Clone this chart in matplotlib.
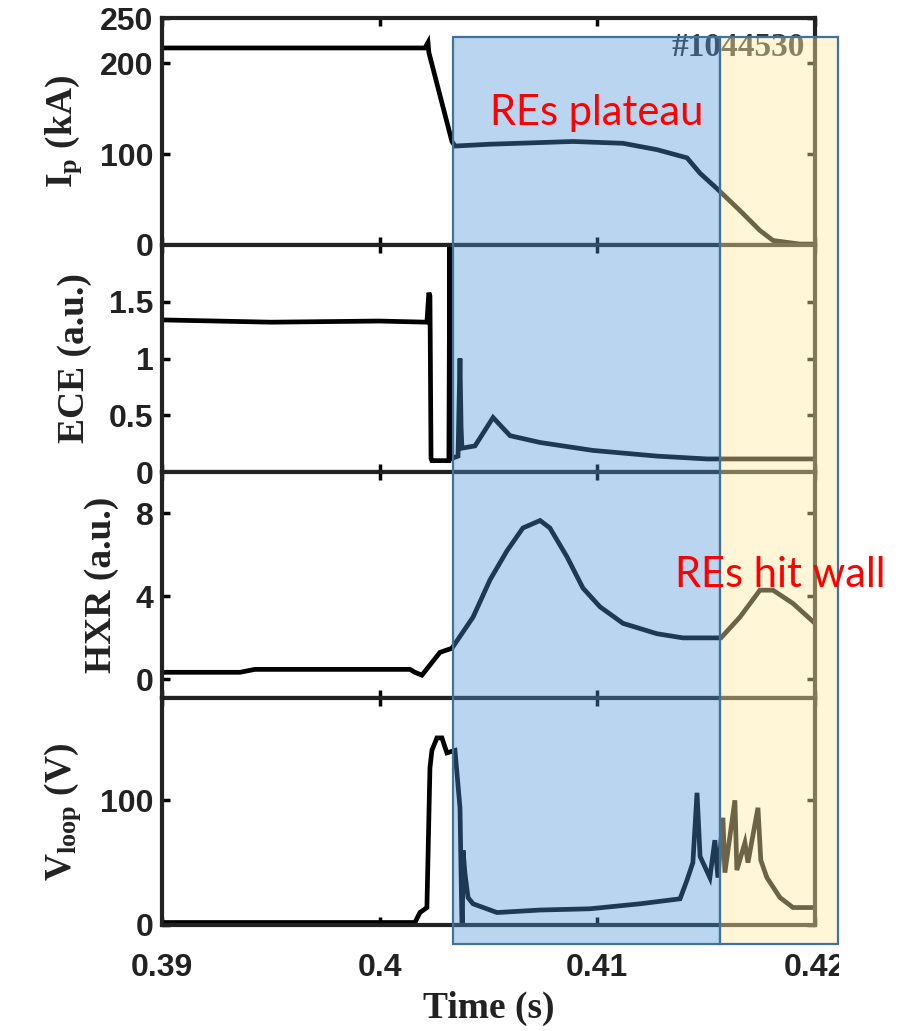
import matplotlib
matplotlib.use("Agg")
import matplotlib.pyplot as plt
from matplotlib.patches import Rectangle

plt.rcParams['mathtext.fontset'] = 'custom'
plt.rcParams['mathtext.rm'] = 'Liberation Serif:bold'
plt.rcParams['mathtext.it'] = 'Liberation Serif:bold'
plt.rcParams['mathtext.bf'] = 'Liberation Serif:bold'

# plasma current (kA)
t_ip = [0.3900, 0.3950, 0.4000, 0.40208, 0.40222, 0.40226, 0.40332, 0.40346, 0.40507,
        0.40888, 0.41118, 0.41274, 0.41412, 0.41472, 0.41550, 0.41655, 0.41747,
        0.41807, 0.41931, 0.42000]
ip = [217, 217, 217, 217, 223, 212, 114, 109, 111,
      114, 112, 105, 96, 79, 62, 38, 16,
      5, 1, 1]

# ECE (a.u.)
t_ece = [0.3900, 0.3950, 0.4000, 0.40217, 0.40226, 0.40231, 0.40236, 0.40240, 0.40300,
         0.40318, 0.40322, 0.40326, 0.40332, 0.40360, 0.40369, 0.40374, 0.40378,
         0.40438, 0.40521, 0.40599, 0.40737, 0.40980, 0.41274, 0.41504, 0.42000]
ece = [1.34, 1.32, 1.33, 1.32, 1.58, 1.55, 0.12, 0.10, 0.10,
       0.10, 2.10, 0.15, 0.12, 0.14, 1.00, 0.40, 0.21,
       0.23, 0.48, 0.32, 0.26, 0.19, 0.14, 0.115, 0.115]

# HXR (a.u.)
t_hxr = [0.3900, 0.39358, 0.39427, 0.40139, 0.40162, 0.40194, 0.40277, 0.40332,
         0.40429, 0.40507, 0.40585, 0.40658, 0.40737, 0.40782, 0.40861, 0.40934,
         0.41012, 0.41118, 0.41274, 0.41393, 0.41568, 0.41655, 0.41747, 0.41807,
         0.41899, 0.42000]
hxr = [0.34, 0.34, 0.48, 0.48, 0.34, 0.20, 1.30, 1.50,
       3.00, 4.80, 6.20, 7.30, 7.66, 7.30, 5.90, 4.40,
       3.50, 2.70, 2.20, 2.00, 2.00, 3.00, 4.30, 4.30,
       3.66, 2.70]

# loop voltage (V)
t_vl = [0.3900, 0.3950, 0.4000, 0.40162, 0.40185, 0.40217, 0.40231, 0.40240, 0.40263,
        0.40286, 0.40309, 0.40346, 0.40369, 0.40378, 0.40380, 0.40383, 0.40392,
        0.40406, 0.40429, 0.40539, 0.40737, 0.40966, 0.41196, 0.41380, 0.41412,
        0.41439, 0.41458, 0.41472, 0.41517, 0.41540, 0.41554, 0.41577, 0.41586,
        0.41632, 0.41641, 0.41678, 0.41692, 0.41738, 0.41751, 0.41779, 0.41839,
        0.41899, 0.42000]
vl = [2, 2, 2, 2, 10, 14, 126, 140, 150,
      150, 138, 140, 94, 0, 0, 60, 41,
      22, 17, 10, 12, 13, 17, 21, 36,
      50, 106, 55, 38, 68, 38, 86, 42,
      100, 44, 66, 50, 94, 52, 38, 22,
      14, 14]

xticks = [0.39, 0.40, 0.41, 0.42]
xtick_labels = ["0.39", "0.4", "0.41", "0.42"]
plateau_span = (0.40337, 0.41563)
wall_span = (0.41563, 0.42106)
shot = "#1044530"

panels = [
    (t_ip, ip, (0, 248), [0, 100, 200, 250], ["0", "100", "200", "250"], r"I$_\mathrm{p}$ (kA)"),
    (t_ece, ece, (0, 2), [0, 0.5, 1, 1.5], ["0", "0.5", "1", "1.5"], "ECE (a.u.)"),
    (t_hxr, hxr, (-0.9, 10), [0, 4, 8], ["0", "4", "8"], "HXR (a.u.)"),
    (t_vl, vl, (0, 182), [0, 100], ["0", "100"], r"V$_\mathrm{loop}$ (V)"),
]

W, H = 910, 1031
fig = plt.figure(figsize=(W / 100, H / 100), dpi=100)

left, right = 162, 815
edges = [18, 245, 472, 698, 925]
axes = []
for i, (tt, yy, ylim, yt, ytl, lab) in enumerate(panels):
    ax = fig.add_axes([left / W, 1 - edges[i + 1] / H, (right - left) / W,
                       (edges[i + 1] - edges[i]) / H])
    ax.plot(tt, yy, color="black", lw=3.4, solid_joinstyle="miter")
    ax.set_xlim(0.39, 0.42)
    ax.set_ylim(*ylim)
    ax.set_xticks(xticks)
    ax.set_yticks(yt)
    ax.set_yticklabels(ytl, fontfamily="Liberation Sans", fontweight="bold", fontsize=23, color="#222222")
    if i < 3:
        ax.set_xticklabels([])
    else:
        ax.set_xticklabels(xtick_labels, fontfamily="Liberation Sans", fontweight="bold",
                           fontsize=23, color="#222222")
        ax.set_xlabel("Time (s)", fontfamily="Liberation Serif", fontweight="bold",
                      fontsize=27, labelpad=6, color="#222222")
    ax.set_ylabel(lab, fontfamily="Liberation Serif", fontweight="bold", fontsize=27,
                  color="#222222", labelpad=12)
    ax.tick_params(direction="in", length=6, width=2.5, top=True, right=True, pad=6)
    ax.tick_params(axis="x", pad=20)
    for s in ax.spines.values():
        s.set_linewidth(3)
        s.set_color("#222222")
    axes.append(ax)

axes[0].text(0.985, 0.868, shot, transform=axes[0].transAxes, ha="right", va="center",
             fontfamily="Liberation Serif", fontweight="bold", fontsize=24, color="#333333")

fig.canvas.draw()
# shaded phases, drawn on top of the panels
y_lo, y_hi = 1 - 944 / H, 1 - 37 / H
to_fig = lambda t: fig.transFigure.inverted().transform(axes[0].transData.transform((t, 0)))[0]
for span, fc in [(plateau_span, (0.31, 0.58, 0.85, 0.39)), (wall_span, (1.0, 0.91, 0.64, 0.43))]:
    x0, x1 = to_fig(span[0]), to_fig(span[1])
    fig.patches.append(Rectangle((x0, y_lo), x1 - x0, y_hi - y_lo, transform=fig.transFigure,
                                 facecolor=fc, edgecolor="#41719C", lw=1.6, zorder=5))
# the reference crops everything right of the shaded box below it
xr = to_fig(wall_span[1])
fig.patches.append(Rectangle((xr + 0.001, 0), 1 - xr, y_lo, transform=fig.transFigure,
                             facecolor="white", edgecolor="none", zorder=6))

fig.text(490 / W, 1 - 125 / H, "REs plateau", fontfamily="Lato", fontsize=30, color="red",
         ha="left", va="baseline", zorder=10)
fig.text(675 / W, 1 - 587 / H, "REs hit wall", fontfamily="Lato", fontsize=30, color="red",
         ha="left", va="baseline", zorder=10)

fig.savefig("out.png", dpi=100)
